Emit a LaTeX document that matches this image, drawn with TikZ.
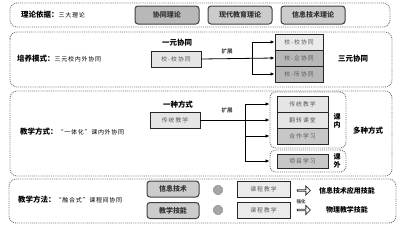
\documentclass[tikz,border=0pt]{standalone}
\usepackage{fontspec}
\setmainfont{Noto Sans CJK SC}
\usetikzlibrary{arrows.meta,shapes.geometric,shapes.arrows}
\newcommand{\smalltxt}{\fontsize{6}{7}\selectfont\addfontfeatures{LetterSpace=12}}
\newcommand{\boxtxt}{\fontsize{5.8}{6.5}\selectfont\addfontfeatures{LetterSpace=18}}
\begin{document}
\begin{tikzpicture}[x=1pt,y=-1pt,
  panel/.style={draw=black!55, densely dotted, line width=0.9pt, rounded corners=7pt},
  grp/.style={draw=black!55, densely dotted, line width=0.9pt, rounded corners=6pt, inner sep=0pt},
  theory/.style={draw=black!75, line width=1pt, rounded corners=3pt, fill=black!20, minimum width=64pt, minimum height=18pt, inner sep=0pt, font=\fontsize{7}{8}\selectfont\bfseries, text=black!80},
  sbox/.style={draw=black!85, line width=0.9pt, minimum width=50pt, minimum height=16pt, inner sep=0pt, font=\boxtxt, text=black!65},
  rbox/.style={draw=black!75, line width=1pt, rounded corners=3pt, fill=black!20, minimum width=52pt, minimum height=16pt, inner sep=0pt, font=\fontsize{7}{8}\selectfont\bfseries, text=black!80},
  lbl/.style={font=\fontsize{7.5}{8.5}\selectfont\bfseries, inner sep=0pt},
  tiny/.style={font=\fontsize{5.5}{6}\selectfont\bfseries, inner sep=0pt, text=black!70},
  ttl/.style={anchor=west, inner sep=0pt},
  arr/.style={-{Latex[length=4pt,width=3.5pt]}, line width=0.8pt},
  ln/.style={line width=0.8pt},
  oct/.style={regular polygon, regular polygon sides=8, minimum size=9.5pt, inner sep=0pt, fill=black!35, draw=black!45, line width=0.6pt},
  hol/.style={single arrow, draw=black!80, line width=0.8pt, minimum height=13pt, minimum width=9pt, single arrow head extend=2pt, inner sep=0pt}
]
\useasboundingbox (0,0) rectangle (400,228);
\fill[white] (0,0) rectangle (400,228);

% panels
\draw[panel] (10,3) rectangle (390,27);
\draw[panel] (10,32) rectangle (392,87);
\draw[panel] (10,91) rectangle (392,176);
\draw[panel] (9,179) rectangle (396,223);

% panel 1
\node[ttl] (t1) at (21,15) {{\fontsize{7.5}{8}\selectfont\bfseries 理论依据：}{\smalltxt 三大理论}};
\node[theory, fill=black!28] (th1) at (167,15) {协同理论};
\node[theory] (th2) at (240,15) {现代教育理论};
\node[theory] (th3) at (313,15) {信息技术理论};

% panel 2
\node[ttl] (t2) at (17,59) {{\fontsize{7.5}{8}\selectfont\bfseries 培养模式：}{\smalltxt 三元校内外协同}};
\node[lbl] (y1) at (177,43) {一元协同};
\node[sbox, fill=black!10] (a1) at (176,59) {校-校协同};
\node[tiny] (k1) at (227,51) {扩展};
\node[sbox, minimum width=48pt, fill=black!8] (s1) at (299,42) {校-校协同};
\node[sbox, minimum width=48pt, fill=black!28] (s2) at (299,58) {校-企协同};
\node[sbox, minimum width=48pt, fill=black!28] (s3) at (299,74) {校-所协同};
\coordinate (b1) at (252,42);
\coordinate (b2) at (252,58);
\coordinate (b3) at (252,74);
\draw[ln] (b1) -- (b3);
\draw[arr] (a1.east) -- (s2.west);
\draw[arr] (b1) -- (s1.west);
\draw[arr] (b3) -- (s3.west);
\node[lbl] (y3) at (353,59) {三元协同};

% panel 3
\node[ttl] (t3) at (20,132) {{\fontsize{7.5}{8}\selectfont\bfseries 教学方式：}{\smalltxt “一体化”课内外协同}};
\node[lbl] (m1) at (178,105) {一种方式};
\node[sbox, fill=black!10] (bb) at (175,120) {传统教学};
\node[tiny] (k2) at (227,110) {扩展};
\node[grp, minimum width=76pt, minimum height=56pt] (g1) at (308,120) {};
\node[grp, minimum width=76pt, minimum height=22pt] (g2) at (308,161) {};
\node[sbox, minimum width=51pt, fill=black!10] (u1) at (302.5,104) {传统教学};
\node[sbox, minimum width=51pt, fill=black!10] (u2) at (302.5,120) {翻转课堂};
\node[sbox, minimum width=51pt, fill=black!22] (u3) at (302.5,136) {合作学习};
\node[sbox, minimum width=51pt, minimum height=14pt, fill=black!22] (u4) at (302.5,161) {项目学习};
\node[lbl, align=center, font=\fontsize{7}{8}\selectfont\bfseries] (n1) at (337,121) {课\\内};
\node[lbl, align=center, font=\fontsize{7}{8}\selectfont\bfseries] (n2) at (337,161) {课\\外};
\node[lbl] (m2) at (368,131) {多种方式};
\coordinate (c1) at (245,104);
\coordinate (c2) at (245,120);
\coordinate (c3) at (245,136);
\coordinate (c4) at (245,161);
\draw[ln] (c1) -- (c4);
\draw[ln] (bb.east) -- (c2);
\draw[arr] (c1) -- (c1 -| g1.west);
\draw[arr] (c2) -- (c2 -| g1.west);
\draw[arr] (c3) -- (c3 -| g1.west);
\draw[arr] (c4) -- (c4 -| g2.west);

% panel 4
\node[ttl] (t4) at (18,200) {{\fontsize{7.5}{8}\selectfont\bfseries 教学方法：}{\smalltxt “融合式”课程间协同}};
\node[rbox] (p1) at (173,189) {信息技术};
\node[rbox] (p2) at (173,210.5) {教学技能};
\node[oct] (o1) at (218,190) {};
\node[oct] (o2) at (218,210) {};
\node[sbox, minimum width=53pt, fill=black!8] (q1) at (263.5,189) {课程教学};
\node[sbox, minimum width=53pt, fill=black!8] (q2) at (263.5,210) {课程教学};
\node[hol] (h1) at (303.5,190.5) {};
\node[hol] (h2) at (303.5,210) {};
\node[tiny, font=\fontsize{4.5}{5}\selectfont\bfseries] (qh) at (301,201.5) {强化};
\node[lbl, font=\fontsize{7}{8}\selectfont\bfseries] (r1) at (347,191) {信息技术应用技能};
\node[lbl, font=\fontsize{7}{8}\selectfont\bfseries] (r2) at (347,210) {物理教学技能};
\end{tikzpicture}
\end{document}
